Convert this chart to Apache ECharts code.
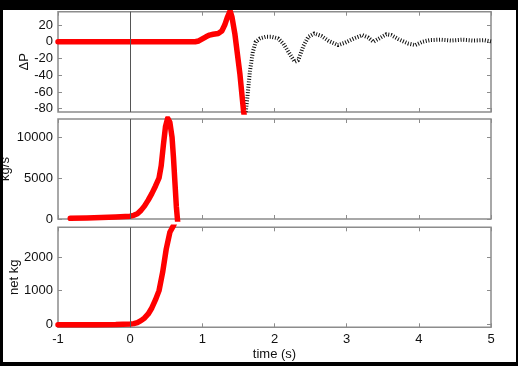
<!DOCTYPE html>
<html>
<head>
<meta charset="utf-8">
<script src="https://cdn.jsdelivr.net/npm/echarts@6/dist/echarts.min.js"></script>
<style>
  html, body { margin: 0; padding: 0; background: #000; width: 518px; height: 366px; overflow: hidden; }
  #c { position: absolute; left: 3px; top: 10px; width: 513px; height: 352px; background: #fff; }
</style>
</head>
<body>
<div id="c"></div>
<script>
// time axis
const timeRange = [-1, 5]

// pressure difference (top panel)
const dpTicks = [-80, -60, -40, -20, 0, 20]
const dpRange = [-84, 36]
const dpMeasured = [
  [-1, 0], [-0.5, 0], [0, 0], [0.5, 0], [0.9, 0], [0.95, 1], [1.0, 3.5], [1.05, 6],
  [1.1, 8], [1.15, 9], [1.22, 10], [1.27, 13], [1.31, 20], [1.35, 30], [1.385, 37],
  [1.41, 30], [1.45, 10], [1.52, -38], [1.57, -82], [1.6, -100]
]
const dpModel = [
  [1.58, -100], [1.62, -70], [1.66, -35], [1.70, -12], [1.74, 0], [1.8, 4], [1.88, 6],
  [1.96, 6], [2.05, 4], [2.12, -2], [2.2, -13], [2.28, -24], [2.33, -22], [2.4, -5],
  [2.47, 6], [2.55, 10], [2.65, 7], [2.75, 1], [2.88, -4], [2.98, -1], [3.1, 4],
  [3.22, 8], [3.3, 5], [3.37, 0], [3.45, 4], [3.55, 9], [3.62, 8], [3.72, 3],
  [3.85, -2], [3.95, -4], [4.05, 0], [4.15, 2], [4.3, 2.5], [4.45, 1.5], [4.6, 2.5],
  [4.75, 1.5], [4.9, 2], [5, 0.5]
]

// mass flow (middle panel)
const flowTicks = [0, 5000, 10000]
const flowRange = [0, 12200]
const flow = [
  [-0.83, 80], [-0.6, 120], [-0.4, 180], [-0.2, 250], [0, 350], [0.05, 450], [0.1, 650],
  [0.15, 1050], [0.2, 1600], [0.25, 2300], [0.3, 3100], [0.35, 4000], [0.4, 5000],
  [0.43, 6500], [0.46, 9000], [0.49, 11300], [0.52, 12300], [0.55, 11800], [0.58, 10000],
  [0.6, 7500], [0.62, 4500], [0.64, 1500], [0.66, -500]
]

// net mass (bottom panel)
const netTicks = [0, 1000, 2000]
const netRange = [-100, 2900]
const net = [
  [-1, -20], [-0.5, -20], [-0.2, -15], [0, 0], [0.05, 10], [0.1, 40], [0.15, 100],
  [0.2, 180], [0.25, 300], [0.3, 480], [0.35, 720], [0.4, 1000], [0.45, 1550],
  [0.5, 2250], [0.55, 2750], [0.6, 2950], [0.65, 3200]
]

const FONT = 'Liberation Sans, Arial, sans-serif'
const FRAME = '#8c8c8c'
const RED = '#f00'

const grids = [
  { left: 55, right: 25, top: 1.7, height: 100.3 },
  { left: 55, right: 25, top: 109, height: 100 },
  { left: 55, right: 25, top: 217.3, height: 100 },
].map(g => Object.assign(g, {
  show: true, borderColor: FRAME, borderWidth: 1.5, backgroundColor: '#fff',
  containLabel: false, outerBoundsMode: 'none',
}))

const plain = v => String(v)

function xAxis(gi, pos, labels) {
  return {
    type: 'value', gridIndex: gi, position: pos, min: timeRange[0], max: timeRange[1], interval: 1,
    axisLine: { show: false, onZero: false }, splitLine: { show: false },
    axisTick: { inside: true, length: 4, lineStyle: { color: FRAME, width: 1 } },
    axisLabel: { show: labels, margin: 6, fontFamily: FONT, fontSize: 13, color: '#111', formatter: plain },
    name: labels ? 'time (s)' : '', nameLocation: 'middle', nameGap: 21, nameMoveOverlap: false,
    nameTextStyle: { fontFamily: FONT, fontSize: 13, color: '#111' },
  }
}

function yAxis(gi, pos, range, ticks, name, gap) {
  const left = pos === 'left'
  return {
    type: 'value', gridIndex: gi, position: pos, min: range[0], max: range[1],
    axisLine: { show: false, onZero: false }, splitLine: { show: false },
    axisTick: { inside: true, length: 4, customValues: ticks, lineStyle: { color: FRAME, width: 1 } },
    axisLabel: { show: left, customValues: ticks, margin: 5, fontFamily: FONT, fontSize: 13, color: '#111', formatter: plain },
    name: left ? name : '', nameLocation: 'middle', nameGap: gap || 0, nameMoveOverlap: false,
    nameTextStyle: { fontFamily: FONT, fontSize: 13, color: '#111' },
  }
}

const zeroLine = {
  silent: true, symbol: 'none', label: { show: false },
  lineStyle: { color: '#555', width: 1, type: 'solid' },
  data: [{ xAxis: 0 }],
}

function redLine(xi, yi, data) {
  return {
    type: 'line', xAxisIndex: xi, yAxisIndex: yi, data, showSymbol: false, symbol: 'none',
    lineStyle: { color: RED, width: 5.5, cap: 'round', join: 'round' }, clip: true,
    markLine: zeroLine, z: 3,
  }
}

const chart = echarts.init(document.getElementById('c'), null, { renderer: 'canvas' })
chart.setOption({
  animation: false,
  grid: grids,
  xAxis: [
    xAxis(0, 'bottom', false), xAxis(0, 'top', false),
    xAxis(1, 'bottom', false), xAxis(1, 'top', false),
    xAxis(2, 'bottom', true), xAxis(2, 'top', false),
  ],
  yAxis: [
    yAxis(0, 'left', dpRange, dpTicks, 'ΔP', 27), yAxis(0, 'right', dpRange, dpTicks),
    yAxis(1, 'left', flowRange, flowTicks, 'kg/s', 46), yAxis(1, 'right', flowRange, flowTicks),
    yAxis(2, 'left', netRange, netTicks, 'net kg', 37), yAxis(2, 'right', netRange, netTicks),
  ],
  series: [
    redLine(0, 0, dpMeasured),
    {
      type: 'line', xAxisIndex: 0, yAxisIndex: 0, data: dpModel, showSymbol: false, symbol: 'none',
      lineStyle: { color: '#111', width: 4, type: [1, 1.7], cap: 'butt' }, clip: true, z: 2,
    },
    redLine(2, 2, flow),
    redLine(4, 4, net),
  ],
})
</script>
</body>
</html>
